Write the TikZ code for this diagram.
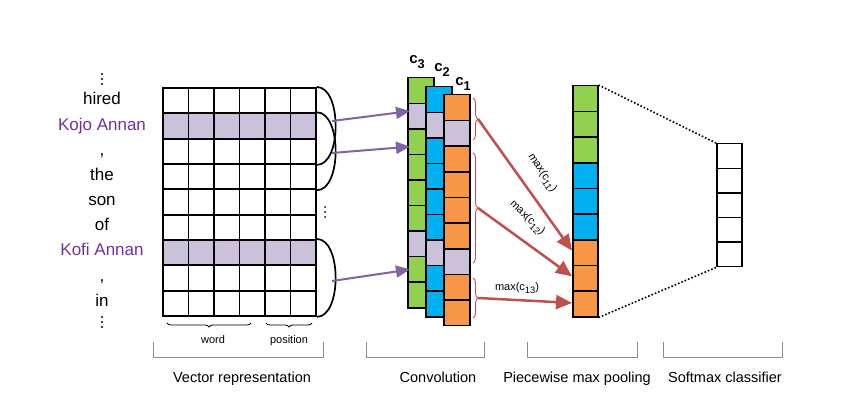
\documentclass[tikz,border=0pt]{standalone}
\usepackage{fontspec}
\usepackage{graphicx}
\setmainfont{Liberation Sans}
\usetikzlibrary{arrows.meta,decorations.pathreplacing,calc}
\definecolor{lav}{HTML}{CCC1DA}
\definecolor{ent}{HTML}{7030A0}
\definecolor{cgreen}{HTML}{92D050}
\definecolor{cblue}{HTML}{00B0F0}
\definecolor{corange}{HTML}{F79646}
\definecolor{cred}{HTML}{C0504D}
\definecolor{parrow}{HTML}{8064A2}
\definecolor{bracketgray}{HTML}{8C8C8C}
\newcommand\lowsub[1]{\raisebox{-0.55ex}{\scalebox{0.85}{#1}}}
\begin{document}
\begin{tikzpicture}[x=1pt,y=-1pt,
  gcell/.style={draw=black,line width=1.9pt,minimum width=25.5pt,minimum height=25.33pt,inner sep=0pt,anchor=north west},
  ccell/.style={draw=black,line width=1.5pt,minimum width=26pt,minimum height=25.6pt,inner sep=0pt,anchor=north west},
  pcell/.style={draw=black,line width=1.5pt,minimum width=25pt,minimum height=25.67pt,inner sep=0pt,anchor=north west},
  scell/.style={draw=black,line width=1.5pt,minimum width=25pt,minimum height=24.6pt,inner sep=0pt,anchor=north west},
  wordlab/.style={font=\fontsize{17}{20}\selectfont,anchor=base,inner sep=0pt},
  entlab/.style={wordlab,text=ent},
  vdot/.style={fill=black,draw=none,circle,inner sep=0pt,minimum size=2.4pt},
  clab/.style={font=\fontsize{15}{17}\selectfont\bfseries,inner sep=0pt},
  maxlab/.style={font=\fontsize{11}{13}\selectfont,inner sep=0pt},
  smalllab/.style={font=\fontsize{11}{13}\selectfont,anchor=base,inner sep=0pt},
  steplab/.style={font=\fontsize{14.5}{17}\selectfont,anchor=base,inner sep=0pt},
  parr/.style={draw=parrow,line width=2pt,-{Triangle[length=14pt,width=12pt]}},
  rarr/.style={draw=cred,line width=2.5pt,-{Triangle[length=16pt,width=14pt]}},
  rbrace/.style={draw=cred,line width=0.9pt,decorate,decoration={brace,amplitude=5pt}},
  kbrace/.style={draw=black,line width=0.8pt,decorate,decoration={brace,amplitude=4pt}},
  gbracket/.style={draw=bracketgray,line width=1pt},
  dotline/.style={draw=black,line width=1.6pt,dash pattern=on 1.6pt off 2pt}
]
\useasboundingbox (0,0) rectangle (865,411);

% ---- words ----
\foreach \y in {74,79,84}{\node[vdot] at (102,\y) {};}
\node[wordlab] (w1) at (102,105) {hired};
\node[entlab]  (w2) at (102,131) {Kojo Annan};
\node[wordlab] (w3) at (102,156) {,};
\node[wordlab] (w4) at (102,181) {the};
\node[wordlab] (w5) at (102,206) {son};
\node[wordlab] (w6) at (102,231) {of};
\node[entlab]  (w7) at (102,256) {Kofi Annan};
\node[wordlab] (w8) at (102,282) {,};
\node[wordlab] (w9) at (102,307) {in};
\foreach \y in {317,322,327}{\node[vdot] at (102,\y) {};}

% ---- embedding grid ----
\foreach \r/\f in {1/white,2/lav,3/white,4/white,5/white,6/white,7/lav,8/white,9/white}{
  \foreach \c in {1,...,6}{
    \node[gcell,fill=\f] (g-\r-\c) at ({162+(\c-1)*25.5},{87+(\r-1)*25.33}) {};
  }
}
% window arcs
\draw[line width=1.7pt] (g-1-6.north east) .. controls +(25,0) and +(25,0) .. (g-3-6.south east);
\draw[line width=1.7pt] (g-2-6.north east) .. controls +(25,0) and +(25,0) .. (g-4-6.south east);
\draw[line width=1.7pt] (g-7-6.north east) .. controls +(25,0) and +(25,0) .. (g-9-6.south east);
\coordinate (a1) at (332,121);
\coordinate (a2) at (332,153);
\coordinate (a3) at (332,281);
\foreach \y in {207,212,217}{\node[vdot,minimum size=2pt] at (325,\y) {};}

% word / position braces
\draw[kbrace] (251,323) -- (167,323);
\draw[kbrace] (312,323) -- (266,323);
\node[smalllab] (lword) at (213,344) {word};
\node[smalllab] (lpos) at (289,344) {position};

% ---- convolution columns ----
\foreach \i/\f in {1/cgreen,2/lav,3/cgreen,4/cgreen,5/cgreen,6/cgreen,7/lav,8/cgreen,9/cgreen}{
  \node[ccell,fill=\f] (c3-\i) at ({407},{77+(\i-1)*25.56}) {};
}
\foreach \i/\f in {1/cblue,2/lav,3/cblue,4/cblue,5/cblue,6/cblue,7/lav,8/cblue,9/cblue}{
  \node[ccell,fill=\f] (c2-\i) at ({425},{86+(\i-1)*25.56}) {};
}
\foreach \i/\f in {1/corange,2/lav,3/corange,4/corange,5/corange,6/corange,7/lav,8/corange,9/corange}{
  \node[ccell,fill=\f] (c1-\i) at ({443},{94+(\i-1)*25.67}) {};
}
\node[clab] (lc3) at (417,62) {c\lowsub{3}};
\node[clab] (lc2) at (442,70) {c\lowsub{2}};
\node[clab] (lc1) at (463,84) {c\lowsub{1}};

\draw[parr] (a1) -- ([xshift=3pt,yshift=5pt]c3-2.west);
\draw[parr] (a2) -- ([xshift=3pt,yshift=-5pt]c3-3.west);
\draw[parr] (a3) -- ([xshift=3pt]c3-8.west);

% red braces
\draw[rbrace] (473,98) -- (473,140);
\draw[rbrace] (473,153) -- (473,263);
\draw[rbrace] (473,278) -- (473,318);
\coordinate (b1) at (478,119);
\coordinate (b2) at (478,208);
\coordinate (b3) at (478,298);

% ---- pooling column ----
\foreach \i/\f in {1/cgreen,2/cgreen,3/cgreen,4/cblue,5/cblue,6/cblue,7/corange,8/corange,9/corange}{
  \node[pcell,fill=\f] (p-\i) at ({572},{85+(\i-1)*25.67}) {};
}
\draw[rarr] (b1) -- ([yshift=2pt]p-7.west);
\draw[rarr] (b2) -- ([yshift=2pt]p-8.west);
\draw[rarr] (b3) -- ([yshift=1pt]p-9.west);
\node[maxlab,rotate=-57] (m1) at (542,173) {max(c\lowsub{11})};
\node[maxlab,rotate=-44] (m2) at (527,218) {max(c\lowsub{12})};
\node[maxlab] (m3) at (517,288) {max(c\lowsub{13})};

% ---- softmax column ----
\foreach \i in {1,...,5}{
  \node[scell,fill=white] (s-\i) at ({716},{143+(\i-1)*24.6}) {};
}
\draw[dotline] (p-1.north east) -- (s-1.north west);
\draw[dotline] (p-9.south east) -- (s-5.south west);

% ---- bottom brackets and labels ----
\draw[gbracket] (153,342) -- (153,358) -- (323,358) -- (323,342);
\draw[gbracket] (366,342) -- (366,358) -- (484,358) -- (484,342);
\draw[gbracket] (527,342) -- (527,358) -- (637,358) -- (637,342);
\draw[gbracket] (663,342) -- (663,358) -- (782,358) -- (782,342);
\node[steplab] (t1) at (242,383) {Vector representation};
\node[steplab] (t2) at (438,383) {Convolution};
\node[steplab] (t3) at (577,383) {Piecewise max pooling};
\node[steplab] (t4) at (725,383) {Softmax classifier};
\end{tikzpicture}
\end{document}
